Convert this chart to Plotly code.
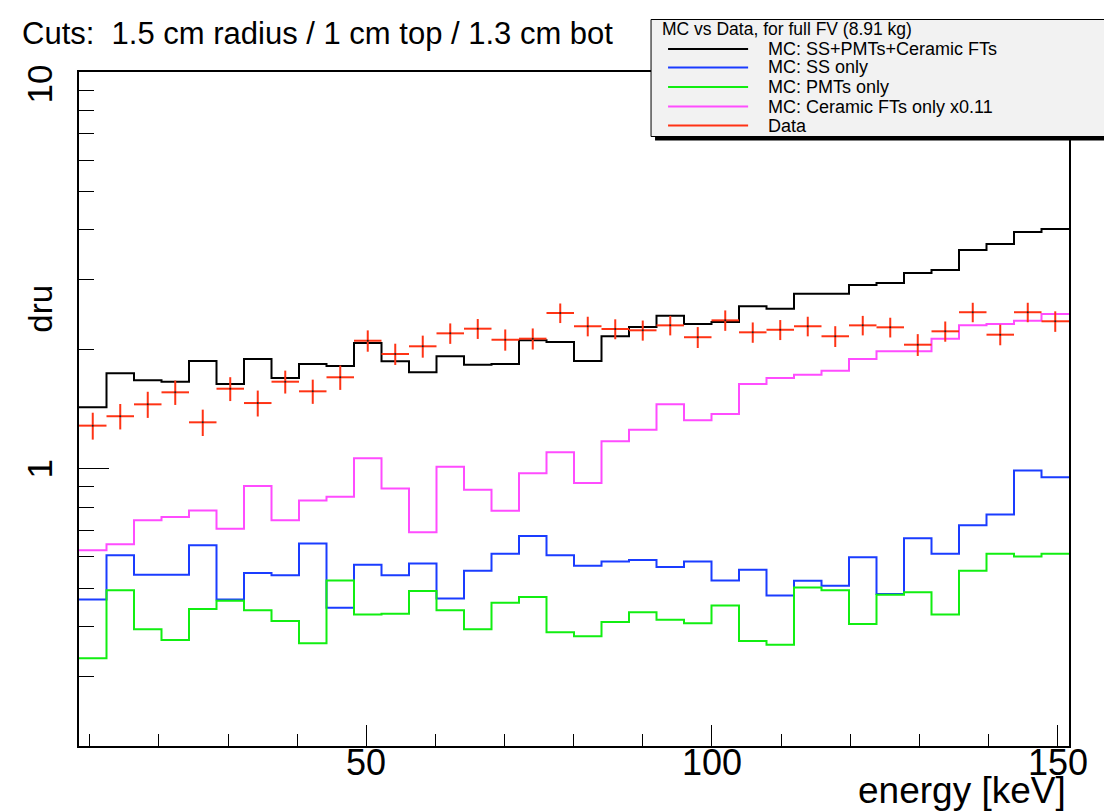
import numpy as np
import plotly.graph_objects as go

# ---------------- data ----------------
x_min, x_max, n_bins = 8.44, 151.65, 36

mc_total = [1.428, 1.740, 1.670, 1.657, 1.868, 1.635, 1.890, 1.693, 1.836, 1.815,
            2.074, 1.865, 1.750, 1.920, 1.829, 1.836, 2.107, 2.086, 1.868, 2.157,
            2.276, 2.430, 2.316, 2.343, 2.567, 2.531, 2.761, 2.761, 2.905, 2.939,
            3.113, 3.168, 3.558, 3.685, 3.952, 4.022]
mc_ss = [0.468, 0.605, 0.540, 0.540, 0.641, 0.468, 0.546, 0.539, 0.648, 0.446,
         0.573, 0.539, 0.577, 0.471, 0.553, 0.610, 0.677, 0.605, 0.569, 0.584,
         0.589, 0.565, 0.584, 0.523, 0.556, 0.479, 0.522, 0.507, 0.598, 0.483,
         0.668, 0.610, 0.720, 0.767, 0.990, 0.951]
mc_pmt = [0.333, 0.494, 0.394, 0.370, 0.443, 0.465, 0.440, 0.413, 0.363, 0.523,
          0.429, 0.431, 0.492, 0.440, 0.394, 0.459, 0.475, 0.387, 0.378, 0.411,
          0.435, 0.416, 0.408, 0.452, 0.368, 0.360, 0.502, 0.494, 0.406, 0.481,
          0.488, 0.429, 0.553, 0.610, 0.601, 0.610]
mc_ceramic = [0.623, 0.645, 0.741, 0.756, 0.785, 0.706, 0.904, 0.741, 0.831, 0.850,
              1.062, 0.892, 0.692, 1.012, 0.885, 0.784, 0.974, 1.100, 0.920, 1.172,
              1.254, 1.453, 1.324, 1.373, 1.635, 1.693, 1.726, 1.766, 1.890, 1.976,
              1.976, 2.127, 2.298, 2.316, 2.361, 2.455]
data_vals = [1.284, 1.356, 1.453, 1.558, 1.309, 1.591, 1.464, 1.657, 1.567, 1.700,
             2.102, 1.946, 2.035, 2.194, 2.254, 2.114, 2.127, 2.469, 2.286, 2.250,
             2.233, 2.298, 2.145, 2.366, 2.207, 2.240, 2.286, 2.157, 2.298, 2.272,
             2.054, 2.220, 2.480, 2.177, 2.480, 2.353]
data_err = [0.10, 0.10, 0.11, 0.11, 0.10, 0.11, 0.11, 0.11, 0.11, 0.12,
            0.13, 0.12, 0.13, 0.13, 0.13, 0.13, 0.13, 0.14, 0.13, 0.13,
            0.13, 0.13, 0.13, 0.14, 0.13, 0.13, 0.13, 0.13, 0.13, 0.13,
            0.13, 0.13, 0.14, 0.13, 0.14, 0.14]

x_tick_vals = [50, 100, 150]
x_tick_text = ["50", "100", "150"]
y_tick_vals = [1, 10]
y_tick_text = ["1", "10"]

legend_title = "MC vs Data, for full FV (8.91 kg)"
legend_labels = ["MC: SS+PMTs+Ceramic FTs", "MC: SS only", "MC: PMTs only",
                 "MC: Ceramic FTs only x0.11", "Data"]
cuts_text = "Cuts:  1.5 cm radius / 1 cm top / 1.3 cm bot"

# ---------------- styling ----------------
C_BLACK, C_BLUE, C_GREEN, C_MAG, C_RED = "#000000", "#1a3cff", "#11ee11", "#ff4cff", "#ff3314"
W, H = 1112, 812
L, R, T, B = 71.3, 1060.7, 64.0, 738.0
FONT = "Liberation Sans, Arial, Helvetica, sans-serif"

def px(xp):
    return (xp - L) / (R - L)

def py(yp):
    return (B - yp) / (B - T)

edges = np.linspace(x_min, x_max, n_bins + 1)
centers = 0.5 * (edges[:-1] + edges[1:])
half_w = 0.5 * (edges[1] - edges[0])

def step_trace(vals, color):
    xs = list(edges[:-1]) + [edges[-1]]
    ys = list(vals) + [vals[-1]]
    return go.Scatter(x=xs, y=ys, mode="lines", line=dict(color=color, width=2, shape="hv"),
                      showlegend=False, hoverinfo="skip")

fig = go.Figure()
fig.add_trace(step_trace(mc_total, C_BLACK))
fig.add_trace(step_trace(mc_ss, C_BLUE))
fig.add_trace(step_trace(mc_pmt, C_GREEN))
fig.add_trace(step_trace(mc_ceramic, C_MAG))
fig.add_trace(go.Scatter(
    x=centers, y=data_vals, mode="markers",
    marker=dict(size=2, color="#222222"),
    error_x=dict(type="constant", value=half_w, color=C_RED, thickness=2, width=0),
    error_y=dict(type="data", array=data_err, color=C_RED, thickness=2, width=0),
    showlegend=False, hoverinfo="skip"))

y_minor = [0.2, 0.3, 0.4, 0.5, 0.6, 0.7, 0.8, 0.9, 2, 3, 4, 5, 6, 7, 8, 9]
x_minor = [10, 20, 30, 40, 60, 70, 80, 90, 110, 120, 130, 140]

fig.update_xaxes(range=[x_min, x_max], showline=True, mirror=True, linecolor="black",
                 linewidth=1.5, showgrid=False, zeroline=False,
                 tickvals=x_tick_vals, ticks="inside", ticklen=21, tickwidth=1,
                 tickcolor="black", showticklabels=False,
                 minor=dict(tickvals=x_minor, ticks="inside", ticklen=12, tickwidth=1,
                            tickcolor="black", showgrid=False))
fig.update_yaxes(type="log", range=[np.log10(0.2), 1.0], showline=True, mirror=True,
                 linecolor="black", linewidth=1.5, showgrid=False, zeroline=False,
                 tickvals=y_tick_vals, ticks="inside", ticklen=30, tickwidth=1,
                 tickcolor="black", showticklabels=False,
                 minor=dict(tickvals=y_minor, ticks="inside", ticklen=15, tickwidth=1,
                            tickcolor="black", showgrid=False))

ann = []
# x tick labels (placed at the axis values)
for v, t in zip(x_tick_vals, x_tick_text):
    ann.append(dict(text=t, x=v, xref="x", y=py(732), yref="paper", showarrow=False,
                    xanchor="center", yanchor="top",
                    font=dict(family=FONT, size=36, color="black")))
# y tick labels (rotated, at the axis values)
y_label_pos = {1: 0.0, 10: -0.03}
for v, t in zip(y_tick_vals, y_tick_text):
    ann.append(dict(text=t, x=px(32), xref="paper", y=np.log10(v) + y_label_pos[v],
                    yref="y", showarrow=False, xanchor="center", yanchor="middle",
                    textangle=-90, font=dict(family=FONT, size=35, color="black")))
ann.append(dict(text="dru", x=px(32), y=py(301), xref="paper", yref="paper",
                showarrow=False, xanchor="center", yanchor="middle", textangle=-90,
                font=dict(family=FONT, size=33, color="black")))
ann.append(dict(text="energy [keV]", x=px(1060), y=py(805), xref="paper", yref="paper",
                showarrow=False, xanchor="right", yanchor="bottom",
                font=dict(family=FONT, size=37, color="black")))
ann.append(dict(text=cuts_text, x=px(12), y=py(26), xref="paper", yref="paper",
                showarrow=False, xanchor="left", yanchor="middle",
                font=dict(family=FONT, size=31, color="black")))

# legend box (drawn like ROOT TLegend)
shapes = []
shapes.append(dict(type="rect", xref="paper", yref="paper", x0=px(647), x1=px(1110),
                   y0=py(132.5), y1=py(15.5), fillcolor="black", line=dict(width=0),
                   layer="above"))
shapes.append(dict(type="rect", xref="paper", yref="paper", x0=px(643), x1=px(1106),
                   y0=py(128.5), y1=py(11.5), fillcolor="#f2f2f2",
                   line=dict(color="black", width=1), layer="above"))
ann.append(dict(text=legend_title, x=px(652), y=py(21), xref="paper", yref="paper",
                showarrow=False, xanchor="left", yanchor="middle",
                font=dict(family=FONT, size=17.5, color="black")))
rows = [41, 59.5, 79, 98.5, 117.5]
colors = [C_BLACK, C_BLUE, C_GREEN, C_MAG, C_RED]
for lab, col, ry in zip(legend_labels, colors, rows):
    shapes.append(dict(type="line", xref="paper", yref="paper", x0=px(660), x1=px(740),
                       y0=py(ry), y1=py(ry), line=dict(color=col, width=2), layer="above"))
    ann.append(dict(text=lab, x=px(758), y=py(ry), xref="paper", yref="paper",
                    showarrow=False, xanchor="left", yanchor="middle",
                    font=dict(family=FONT, size=18, color="black")))

fig.update_layout(width=W, height=H, autosize=False,
                  margin=dict(l=L, r=W - R, t=T, b=H - B, pad=0),
                  paper_bgcolor="white", plot_bgcolor="white",
                  annotations=ann, shapes=shapes, showlegend=False)

fig.write_html("out.html")
